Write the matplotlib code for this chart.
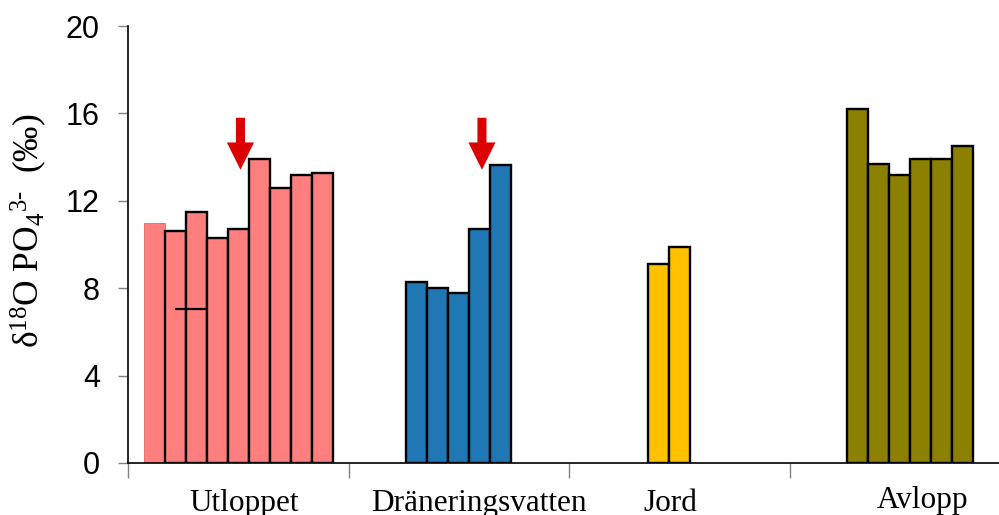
import numpy as np
import matplotlib
matplotlib.use("Agg")
import matplotlib.pyplot as plt

# δ18O of phosphate per sample type; 9 sample slots per site, NaN = no sample
nan = np.nan
categories = ["Utloppet", "Dräneringsvatten", "Jord", "Avlopp"]
utloppet = [11.0, 10.6, 11.5, 10.3, 10.7, 13.9, 12.6, 13.2, 13.25]
draenering = [nan, nan, 8.3, 8.0, 7.8, 10.7, 13.65, nan, nan]
jord = [nan, nan, nan, 9.1, 9.9, nan, nan, nan, nan]
avlopp = [nan, nan, 16.2, 13.7, 13.2, 13.9, 13.9, 14.5, nan]
series = [utloppet, draenering, jord, avlopp]
yticks = [0, 4, 8, 12, 16, 20]

# marked samples: (category index, slot index)
arrow_targets = [(0, 4), (1, 5)]
arrow_tip, arrow_top = 13.42, 15.8
# short leftover line in Utloppet (slots 1-2)
stray_level = 7.05

COLORS = ["#ff7f7f", "#1f77b4", "#ffc000", "#8b8000"]
RED = "#dd0000"
GREY = "#808080"

plt.rcParams["mathtext.fontset"] = "custom"
plt.rcParams["mathtext.rm"] = "Liberation Serif"
plt.rcParams["mathtext.it"] = "Liberation Serif:italic"

fig = plt.figure(figsize=(9.99, 5.15), dpi=100)
ax = fig.add_axes([128 / 999, 52 / 515, 882 / 999, 437 / 515])

nslots = 9
w = 1 / (nslots + 1.5)


def slot_x(cat, slot):
    return cat + 0.5 + (slot - (nslots - 1) / 2) * w


for ci, (vals, col) in enumerate(zip(series, COLORS)):
    for si, v in enumerate(vals):
        if np.isnan(v):
            continue
        # first Utloppet sample is drawn without outline
        if ci == 0 and si == 0:
            ax.bar(slot_x(ci, si), v, width=w, color=col, edgecolor="#e06868",
                   linewidth=0.6, zorder=2)
        else:
            ax.bar(slot_x(ci, si), v, width=w, color=col, edgecolor="black",
                   linewidth=1.7, zorder=2)

ax.hlines(stray_level, slot_x(0, 1), slot_x(0, 2) + w / 2, color="black",
          linewidth=1.6, zorder=3)

for ci, si in arrow_targets:
    x = slot_x(ci, si) + 0.01
    ax.arrow(x, arrow_top, 0, arrow_tip - arrow_top, width=0.041,
             head_width=0.123, head_length=1.25, length_includes_head=True,
             color=RED, linewidth=0, zorder=4)

ax.set_xlim(0, 4)
ax.set_ylim(0, 20)
ax.set_yticks(yticks)
ax.set_yticklabels([str(t) for t in yticks], fontsize=22,
                   family="Liberation Sans")
ax.tick_params(axis="y", length=7.2, width=1, color=GREY, pad=13)
ax.set_xticks([0, 1, 2, 3, 4])
ax.set_xticklabels([])
ax.tick_params(axis="x", length=10.8, width=1, color=GREY)

for s in ["top", "right"]:
    ax.spines[s].set_visible(False)
for s in ["left", "bottom"]:
    ax.spines[s].set_linewidth(1.2)
    ax.spines[s].set_color("black")

# category names sit slightly off-centre under their groups
label_shift = [0.025, 0.092, -0.039, 0.103]
label_base = [-2.2, -2.2, -2.2, -2.04]
for i, name in enumerate(categories):
    ax.text(i + 0.5 + label_shift[i], label_base[i], name, ha="center",
            va="baseline", fontsize=22.5, family="Liberation Serif",
            clip_on=False)

fig.text(29 / 999, 1 - 231 / 515, r"δ$^{18}$O PO$_4$$^{3\text{-}}$  (‰)",
         rotation=90, ha="center", va="center", fontsize=25.5,
         family="Liberation Serif")

fig.savefig("out.png", dpi=100, facecolor="white")
